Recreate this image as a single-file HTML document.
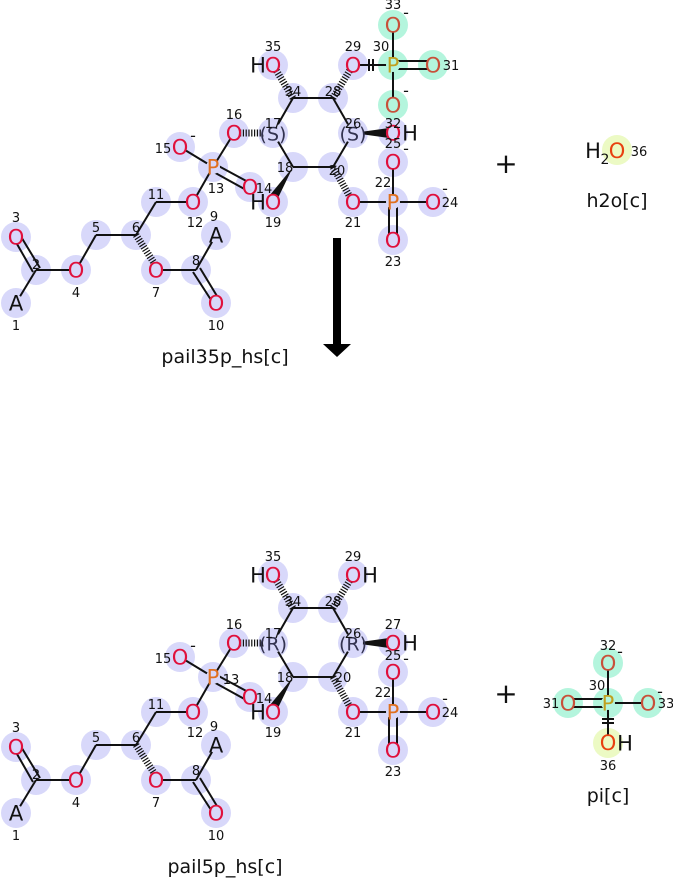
<!DOCTYPE html>
<html><head><meta charset="utf-8"><style>
html,body{margin:0;padding:0;background:#fff;}
svg{display:block;font-family:"DejaVu Sans","Liberation Sans",sans-serif;}
.b{stroke:#111;stroke-width:2;fill:none;}
.h{stroke:#111;stroke-width:7;stroke-dasharray:1.2 1.6;fill:none;}
.c{fill:#d8d8fa;}
.m{fill:#b4f5dd;}
.y{fill:#ecfac4;}
.O{fill:#e0103c;font-size:21px;text-anchor:middle;}
.Om{fill:#c8503a;font-size:21px;text-anchor:middle;}
.P{fill:#e07020;font-size:21px;text-anchor:middle;}
.Pm{fill:#c0a020;font-size:21px;text-anchor:middle;}
.K{fill:#111;font-size:21px;text-anchor:middle;}
.S{fill:#333350;font-size:19px;text-anchor:middle;}
.n{fill:#111;font-size:13px;text-anchor:middle;}
.L{fill:#111;font-size:19px;text-anchor:middle;}
text{dominant-baseline:auto;}
.O,.Om,.P,.Pm,.K,.S{transform:translateY(1.5px);}
</style></head><body>
<svg width="673" height="879" viewBox="0 0 673 879" xmlns="http://www.w3.org/2000/svg">

<!-- ================= TOP MOLECULE ================= -->
<g>
<g class="c">
<circle cx="16" cy="303" r="15"/><circle cx="36" cy="270" r="15"/><circle cx="16" cy="237" r="15"/>
<circle cx="76" cy="270" r="15"/><circle cx="96" cy="235" r="15"/><circle cx="136" cy="235" r="15"/>
<circle cx="156" cy="270" r="15"/><circle cx="196" cy="270" r="15"/><circle cx="216" cy="235" r="15"/>
<circle cx="216" cy="303" r="15"/><circle cx="156" cy="202" r="15"/><circle cx="193" cy="202" r="15"/>
<circle cx="213" cy="167" r="15"/><circle cx="250" cy="187" r="15"/><circle cx="180" cy="147" r="15"/>
<circle cx="234" cy="133" r="15"/><circle cx="273" cy="133" r="15"/><circle cx="293" cy="167" r="15"/>
<circle cx="273" cy="202" r="15"/><circle cx="333" cy="167" r="15"/><circle cx="353" cy="202" r="15"/>
<circle cx="393" cy="202" r="15"/><circle cx="393" cy="240" r="15"/><circle cx="433" cy="202" r="15"/>
<circle cx="393" cy="162" r="15"/><circle cx="353" cy="133" r="15"/><circle cx="393" cy="133" r="15"/>
<circle cx="333" cy="98" r="15"/><circle cx="353" cy="65" r="15"/><circle cx="293" cy="98" r="15"/>
<circle cx="273" cy="65" r="15"/>
</g>
<g class="m">
<circle cx="393" cy="65" r="15"/><circle cx="433" cy="65" r="15"/><circle cx="393" cy="105" r="15"/><circle cx="393" cy="25" r="15"/>
</g>
<g class="b">
<line x1="16" y1="303" x2="36" y2="270"/>
<line x1="36" y1="270" x2="76" y2="270"/>
<line x1="76" y1="270" x2="96" y2="235"/><line x1="96" y1="235" x2="136" y2="235"/>
<line x1="136" y1="235" x2="156" y2="202"/><line x1="156" y1="202" x2="193" y2="202"/>
<line x1="193" y1="202" x2="213" y2="167"/><line x1="213" y1="167" x2="180" y2="147"/>
<line x1="213" y1="167" x2="234" y2="133"/>
<line x1="156" y1="270" x2="196" y2="270"/><line x1="196" y1="270" x2="216" y2="235"/>
<line x1="273" y1="133" x2="293" y2="98"/><line x1="293" y1="98" x2="333" y2="98"/>
<line x1="333" y1="98" x2="353" y2="133"/><line x1="353" y1="133" x2="333" y2="167"/>
<line x1="333" y1="167" x2="293" y2="167"/><line x1="293" y1="167" x2="273" y2="133"/>
<line x1="353" y1="202" x2="433" y2="202"/><line x1="393" y1="202" x2="393" y2="162"/>
<line x1="389" y1="202" x2="389" y2="240"/><line x1="397" y1="202" x2="397" y2="240"/>
<line x1="353" y1="65" x2="393" y2="65"/><line x1="393" y1="25" x2="393" y2="105"/>
<line x1="393" y1="61" x2="433" y2="61"/><line x1="393" y1="69" x2="433" y2="69"/>
<line x1="369" y1="59" x2="369" y2="71"/><line x1="373" y1="59" x2="373" y2="71"/>
<line x1="33" y1="272" x2="13" y2="237"/><line x1="40" y1="268" x2="20" y2="235"/>
<line x1="193" y1="272" x2="213" y2="303"/><line x1="200" y1="268" x2="220" y2="301"/>
<line x1="213" y1="163" x2="250" y2="183"/><line x1="210" y1="170" x2="248" y2="191"/>
</g>
<g class="h">
<line x1="136" y1="235" x2="156" y2="266"/>
<line x1="240" y1="133" x2="271" y2="133"/>
<line x1="293" y1="98" x2="276" y2="70"/>
<line x1="333" y1="98" x2="350" y2="70"/>
<line x1="333" y1="167" x2="350" y2="197"/>
</g>
<polygon points="353,133 389,128 389,138" fill="#111"/>
<polygon points="293,167 270,195 278,198" fill="#111"/>
<g class="c">
<circle cx="16" cy="237" r="7"/><circle cx="76" cy="270" r="7"/><circle cx="156" cy="270" r="7"/>
<circle cx="216" cy="303" r="7"/><circle cx="16" cy="303" r="8"/><circle cx="216" cy="235" r="8"/>
<circle cx="193" cy="202" r="7"/><circle cx="213" cy="167" r="7"/><circle cx="250" cy="187" r="7"/>
<circle cx="180" cy="147" r="7"/><circle cx="234" cy="133" r="7"/><circle cx="273" cy="202" r="7"/>
<circle cx="353" cy="202" r="7"/><circle cx="393" cy="202" r="7"/><circle cx="393" cy="240" r="7"/>
<circle cx="433" cy="202" r="7"/><circle cx="393" cy="162" r="7"/><circle cx="393" cy="133" r="7"/>
<circle cx="353" cy="65" r="7"/><circle cx="273" cy="65" r="7"/>
<circle cx="273" cy="133" r="10"/><circle cx="353" cy="133" r="10"/>
</g>
<g class="m">
<circle cx="393" cy="65" r="7"/><circle cx="433" cy="65" r="7"/><circle cx="393" cy="105" r="7"/><circle cx="393" cy="25" r="7"/>
</g>
<text class="K" x="16" y="309">A</text><text class="O" x="16" y="243">O</text>
<text class="O" x="76" y="276">O</text><text class="O" x="156" y="276">O</text>
<text class="K" x="216" y="241">A</text><text class="O" x="216" y="309">O</text>
<text class="O" x="193" y="208">O</text><text class="P" x="213" y="173">P</text>
<text class="O" x="250" y="193">O</text><text class="O" x="180" y="153">O</text>
<text class="O" x="234" y="139">O</text><text class="S" x="273" y="139">(S)</text>
<text class="S" x="353" y="139">(S)</text>
<text class="K" x="258" y="208">H</text><text class="O" x="273" y="208">O</text>
<text class="K" x="258" y="71">H</text><text class="O" x="273" y="71">O</text>
<text class="O" x="353" y="71">O</text>
<text class="O" x="393" y="139">O</text><text class="K" x="410" y="139">H</text>
<text class="O" x="393" y="168">O</text>
<text class="O" x="353" y="208">O</text><text class="P" x="393" y="208">P</text>
<text class="O" x="433" y="208">O</text><text class="O" x="393" y="246">O</text>
<text class="Pm" x="393" y="71">P</text><text class="Om" x="433" y="71">O</text>
<text class="Om" x="393" y="111">O</text><text class="Om" x="393" y="31">O</text>
<g class="n">
<text x="16" y="330">1</text><text x="36" y="269">2</text><text x="16" y="222">3</text>
<text x="76" y="297">4</text><text x="96" y="232">5</text><text x="136" y="232">6</text>
<text x="156" y="297">7</text><text x="196" y="265">8</text><text x="214" y="221">9</text>
<text x="216" y="330">10</text><text x="156" y="199">11</text><text x="195" y="227">12</text>
<text x="216" y="193">13</text><text x="264" y="193">14</text><text x="163" y="153">15</text>
<text x="234" y="119">16</text><text x="273" y="128">17</text><text x="285" y="172">18</text>
<text x="273" y="227">19</text><text x="337" y="175">20</text><text x="353" y="227">21</text>
<text x="383" y="187">22</text><text x="393" y="266">23</text><text x="450" y="207">24</text>
<text x="393" y="148">25</text><text x="353" y="128">26</text><text x="333" y="96">28</text>
<text x="353" y="51">29</text><text x="381" y="51">30</text><text x="451" y="70">31</text>
<text x="393" y="128">32</text><text x="393" y="9">33</text><text x="293" y="96">34</text>
<text x="273" y="51">35</text>
<text x="193" y="141" style="font-size:16px">-</text><text x="406" y="18" style="font-size:16px">-</text><text x="406" y="96" style="font-size:16px">-</text>
<text x="406" y="154" style="font-size:16px">-</text><text x="445" y="194" style="font-size:16px">-</text>
</g>
</g>

<!-- arrow -->
<rect x="333" y="238" width="8" height="108" fill="#000"/>
<polygon points="323,344 351,344 337,357" fill="#000"/>
<text class="L" x="225" y="363">pail35p_hs[c]</text>

<!-- + and water -->
<text x="506" y="173" style="font-size:28px;text-anchor:middle;fill:#111">+</text>
<circle cx="617" cy="150" r="15" class="y"/>
<text x="593" y="158" style="font-size:21px;fill:#111;text-anchor:middle">H</text>
<text x="605" y="164" style="font-size:14px;fill:#111;text-anchor:middle">2</text>
<text x="617" y="158" style="font-size:21px;fill:#e84010;text-anchor:middle">O</text>
<text x="639" y="156" class="n">36</text>
<text class="L" x="617" y="207">h2o[c]</text>

<!-- ================= BOTTOM MOLECULE ================= -->
<g transform="translate(0,510)">
<g class="c">
<circle cx="16" cy="303" r="15"/><circle cx="36" cy="270" r="15"/><circle cx="16" cy="237" r="15"/>
<circle cx="76" cy="270" r="15"/><circle cx="96" cy="235" r="15"/><circle cx="136" cy="235" r="15"/>
<circle cx="156" cy="270" r="15"/><circle cx="196" cy="270" r="15"/><circle cx="216" cy="235" r="15"/>
<circle cx="216" cy="303" r="15"/><circle cx="156" cy="202" r="15"/><circle cx="193" cy="202" r="15"/>
<circle cx="213" cy="167" r="15"/><circle cx="250" cy="187" r="15"/><circle cx="180" cy="147" r="15"/>
<circle cx="234" cy="133" r="15"/><circle cx="273" cy="133" r="15"/><circle cx="293" cy="167" r="15"/>
<circle cx="273" cy="202" r="15"/><circle cx="333" cy="167" r="15"/><circle cx="353" cy="202" r="15"/>
<circle cx="393" cy="202" r="15"/><circle cx="393" cy="240" r="15"/><circle cx="433" cy="202" r="15"/>
<circle cx="393" cy="162" r="15"/><circle cx="353" cy="133" r="15"/><circle cx="393" cy="133" r="15"/>
<circle cx="333" cy="98" r="15"/><circle cx="353" cy="65" r="15"/><circle cx="293" cy="98" r="15"/>
<circle cx="273" cy="65" r="15"/>
</g>
<g class="b">
<line x1="16" y1="303" x2="36" y2="270"/>
<line x1="36" y1="270" x2="76" y2="270"/>
<line x1="76" y1="270" x2="96" y2="235"/><line x1="96" y1="235" x2="136" y2="235"/>
<line x1="136" y1="235" x2="156" y2="202"/><line x1="156" y1="202" x2="193" y2="202"/>
<line x1="193" y1="202" x2="213" y2="167"/><line x1="213" y1="167" x2="180" y2="147"/>
<line x1="213" y1="167" x2="234" y2="133"/>
<line x1="156" y1="270" x2="196" y2="270"/><line x1="196" y1="270" x2="216" y2="235"/>
<line x1="273" y1="133" x2="293" y2="98"/><line x1="293" y1="98" x2="333" y2="98"/>
<line x1="333" y1="98" x2="353" y2="133"/><line x1="353" y1="133" x2="333" y2="167"/>
<line x1="333" y1="167" x2="293" y2="167"/><line x1="293" y1="167" x2="273" y2="133"/>
<line x1="353" y1="202" x2="433" y2="202"/><line x1="393" y1="202" x2="393" y2="162"/>
<line x1="389" y1="202" x2="389" y2="240"/><line x1="397" y1="202" x2="397" y2="240"/>
<line x1="33" y1="272" x2="13" y2="237"/><line x1="40" y1="268" x2="20" y2="235"/>
<line x1="193" y1="272" x2="213" y2="303"/><line x1="200" y1="268" x2="220" y2="301"/>
<line x1="213" y1="163" x2="250" y2="183"/><line x1="210" y1="170" x2="248" y2="191"/>
</g>
<g class="h">
<line x1="136" y1="235" x2="156" y2="266"/>
<line x1="240" y1="133" x2="271" y2="133"/>
<line x1="293" y1="98" x2="276" y2="70"/>
<line x1="333" y1="98" x2="350" y2="70"/>
<line x1="333" y1="167" x2="350" y2="197"/>
</g>
<polygon points="353,133 389,128 389,138" fill="#111"/>
<polygon points="293,167 270,195 278,198" fill="#111"/>
<g class="c">
<circle cx="16" cy="237" r="7"/><circle cx="76" cy="270" r="7"/><circle cx="156" cy="270" r="7"/>
<circle cx="216" cy="303" r="7"/><circle cx="16" cy="303" r="8"/><circle cx="216" cy="235" r="8"/>
<circle cx="193" cy="202" r="7"/><circle cx="213" cy="167" r="7"/><circle cx="250" cy="187" r="7"/>
<circle cx="180" cy="147" r="7"/><circle cx="234" cy="133" r="7"/><circle cx="273" cy="202" r="7"/>
<circle cx="353" cy="202" r="7"/><circle cx="393" cy="202" r="7"/><circle cx="393" cy="240" r="7"/>
<circle cx="433" cy="202" r="7"/><circle cx="393" cy="162" r="7"/><circle cx="393" cy="133" r="7"/>
<circle cx="353" cy="65" r="7"/><circle cx="273" cy="65" r="7"/>
<circle cx="273" cy="133" r="10"/><circle cx="353" cy="133" r="10"/>
</g>
<text class="K" x="16" y="309">A</text><text class="O" x="16" y="243">O</text>
<text class="O" x="76" y="276">O</text><text class="O" x="156" y="276">O</text>
<text class="K" x="216" y="241">A</text><text class="O" x="216" y="309">O</text>
<text class="O" x="193" y="208">O</text><text class="P" x="213" y="173">P</text>
<text class="O" x="250" y="193">O</text><text class="O" x="180" y="153">O</text>
<text class="O" x="234" y="139">O</text><text class="S" x="273" y="139">(R)</text>
<text class="S" x="353" y="139">(R)</text>
<text class="K" x="258" y="208">H</text><text class="O" x="273" y="208">O</text>
<text class="K" x="258" y="71">H</text><text class="O" x="273" y="71">O</text>
<text class="O" x="353" y="71">O</text><text class="K" x="370" y="71">H</text>
<text class="O" x="393" y="139">O</text><text class="K" x="410" y="139">H</text>
<text class="O" x="393" y="168">O</text>
<text class="O" x="353" y="208">O</text><text class="P" x="393" y="208">P</text>
<text class="O" x="433" y="208">O</text><text class="O" x="393" y="246">O</text>
<g class="n">
<text x="16" y="330">1</text><text x="36" y="269">2</text><text x="16" y="222">3</text>
<text x="76" y="297">4</text><text x="96" y="232">5</text><text x="136" y="232">6</text>
<text x="156" y="297">7</text><text x="196" y="265">8</text><text x="214" y="221">9</text>
<text x="216" y="330">10</text><text x="156" y="199">11</text><text x="195" y="227">12</text>
<text x="231" y="174">13</text><text x="264" y="193">14</text><text x="163" y="153">15</text>
<text x="234" y="119">16</text><text x="273" y="128">17</text><text x="285" y="172">18</text>
<text x="273" y="227">19</text><text x="343" y="172">20</text><text x="353" y="227">21</text>
<text x="383" y="187">22</text><text x="393" y="266">23</text><text x="450" y="207">24</text>
<text x="393" y="150">25</text><text x="353" y="128">26</text><text x="393" y="119">27</text>
<text x="333" y="96">28</text><text x="353" y="51">29</text><text x="293" y="96">34</text>
<text x="273" y="51">35</text>
<text x="193" y="141" style="font-size:16px">-</text><text x="406" y="154" style="font-size:16px">-</text><text x="445" y="194" style="font-size:16px">-</text>
</g>
</g>
<text class="L" x="225" y="873">pail5p_hs[c]</text>

<!-- + and pi -->
<text x="506" y="703" style="font-size:28px;text-anchor:middle;fill:#111">+</text>
<g class="m">
<circle cx="608" cy="663" r="15"/><circle cx="568" cy="703" r="15"/><circle cx="608" cy="703" r="15"/><circle cx="648" cy="703" r="15"/>
</g>
<circle cx="608" cy="743" r="15" class="y"/>
<g class="b">
<line x1="608" y1="663" x2="608" y2="743"/><line x1="608" y1="703" x2="648" y2="703"/>
<line x1="568" y1="699" x2="608" y2="699"/><line x1="568" y1="707" x2="608" y2="707"/>
<line x1="602" y1="719" x2="614" y2="719"/><line x1="602" y1="723" x2="614" y2="723"/>
</g>
<g class="m"><circle cx="608" cy="663" r="7"/><circle cx="568" cy="703" r="7"/><circle cx="608" cy="703" r="7"/><circle cx="648" cy="703" r="7"/></g>
<circle cx="608" cy="743" r="7" class="y"/>
<text class="Om" x="608" y="669">O</text><text class="Om" x="568" y="709">O</text>
<text class="Pm" x="608" y="709">P</text><text class="Om" x="648" y="709">O</text>
<text x="608" y="750" style="font-size:21px;fill:#e84010;text-anchor:middle">O</text>
<text class="K" x="625" y="749">H</text>
<g class="n">
<text x="608" y="650">32</text><text x="597" y="690">30</text><text x="551" y="708">31</text>
<text x="666" y="708">33</text><text x="608" y="770">36</text>
<text x="620" y="657" style="font-size:16px">-</text><text x="660" y="697" style="font-size:16px">-</text>
</g>
<text class="L" x="608" y="802">pi[c]</text>
</svg>
</body></html>
